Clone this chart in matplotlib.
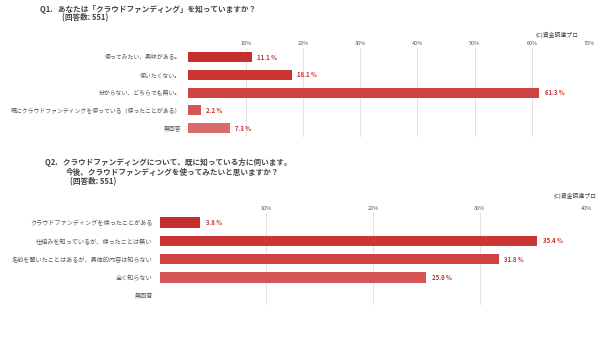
import matplotlib
matplotlib.use("Agg")
import matplotlib.pyplot as plt

plt.rcParams['font.family'] = ['Noto Sans CJK JP', 'DejaVu Sans']

# Q1 data
q1_labels = ["使ってみたい、興味がある。", "使いたくない。", "分からない、どちらでも無い。",
             "既にクラウドファンディングを使っている（使ったことがある）", "無回答"]
q1_values = [11.1, 18.1, 61.3, 2.2, 7.3]
q1_ticks = [0, 10, 20, 30, 40, 50, 60, 70]

# Q2 data
q2_labels = ["クラウドファンディングを使ったことがある", "仕組みを知っているが、使ったことは無い",
             "名前を聞いたことはあるが、具体的内容は知らない", "全く知らない", "無回答"]
q2_values = [3.8, 35.4, 31.8, 25.0, 0.0]
q2_ticks = [0, 10, 20, 30, 40]

bar_colors = ["#c72f2b", "#cb3634", "#ce4242", "#d45656", "#d96b6d"]
label_red = "#c0302c"


def draw_panel(ax, labels, values, ticks, colors, label_size):
    y = list(range(len(labels)))
    ax.barh(y, values, height=0.56, color=colors[:len(values)], zorder=2)
    ax.set_xlim(0, ticks[-1])
    ax.set_ylim(len(labels) - 0.5, -0.52)
    ax.set_xticks(ticks[1:])
    ax.set_xticklabels([f"{t}%" for t in ticks[1:]])
    ax.xaxis.tick_top()
    ax.tick_params(axis='x', length=0, labelsize=4.0, labelcolor="#555555", pad=1.5)
    ax.set_yticks(y)
    ax.set_yticklabels(labels)
    ax.tick_params(axis='y', length=0, labelsize=label_size, labelcolor="#555555", pad=5)
    ax.grid(axis='x', color="#dddddd", linewidth=0.6, zorder=0)
    for s in ax.spines.values():
        s.set_visible(False)
    off = ticks[-1] * 0.013
    for yi, v in zip(y, values):
        if v > 0:
            ax.text(v + off, yi, f"{v:.1f} %", va='center', ha='left',
                    fontsize=4.3, color=label_red, fontweight='bold')


fig = plt.figure(figsize=(6, 3.37), dpi=100)

ax1 = fig.add_axes([0.314, 0.593, 0.668, 0.265])
draw_panel(ax1, q1_labels, q1_values, q1_ticks, bar_colors, 4.2)

ax2 = fig.add_axes([0.266, 0.095, 0.711, 0.273])
draw_panel(ax2, q2_labels, q2_values, q2_ticks, bar_colors, 4.4)

title_kw = dict(fontsize=5.5, fontweight='bold', color="#444444", va='center')
fig.text(40 / 600, 1 - 9 / 337, "Q1.   あなたは「クラウドファンディング」を知っていますか？", **title_kw)
fig.text(62 / 600, 1 - 18 / 337, "(回答数: 551)", **title_kw)
fig.text(45 / 600, 1 - 163 / 337, "Q2.   クラウドファンディングについて、既に知っている方に伺います。", **title_kw)
fig.text(66 / 600, 1 - 172 / 337, "今後、クラウドファンディングを使ってみたいと思いますか？", **title_kw)
fig.text(70 / 600, 1 - 182 / 337, "(回答数: 551)", **title_kw)

fig.text(578 / 600, 1 - 35 / 337, "(C)資金調達プロ", fontsize=4.2, color="#444444", ha='right', va='center')
fig.text(597 / 600, 1 - 196 / 337, "(C)資金調達プロ", fontsize=4.2, color="#444444", ha='right', va='center')

fig.savefig("out.png", dpi=100)
